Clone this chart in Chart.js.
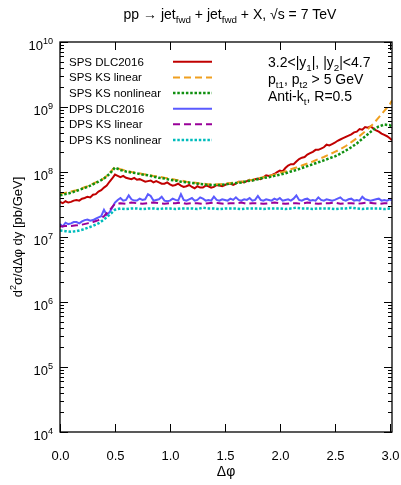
<!DOCTYPE html>
<html>
<head>
<meta charset="utf-8">
<script src="https://cdn.jsdelivr.net/npm/chart.js@4.4.1/dist/chart.umd.min.js"></script>
<style>
  html, body { margin: 0; padding: 0; background: #fff; }
  #wrap { width: 401px; height: 485px; }
</style>
</head>
<body>
<div id="wrap"><canvas id="myChart" width="401" height="485"></canvas></div>
<script>
'use strict';

// delta phi grid for the smooth KS curves
let dphi = [0.00,0.05,0.10,0.15,0.20,0.25,0.30,0.35,0.40,0.45,0.50,0.55,0.60,0.65,0.70,0.75,0.80,0.85,0.90,0.95,
  1.00,1.05,1.10,1.15,1.20,1.25,1.30,1.35,1.40,1.45,1.50,1.55,1.60,1.65,1.70,1.75,1.80,1.85,1.90,1.95,
  2.00,2.05,2.10,2.15,2.20,2.25,2.30,2.35,2.40,2.45,2.50,2.55,2.60,2.65,2.70,2.75,2.80,2.85,2.90,2.95,3.00,3.02];

// finer grid for the noisy DLC2016 curves
let dphiFine = [0.000,0.025,0.050,0.075,0.100,0.125,0.150,0.175,0.200,0.225,0.250,0.275,0.300,0.325,0.350,0.375,0.400,0.425,0.450,0.475,
  0.500,0.525,0.550,0.575,0.600,0.625,0.650,0.675,0.700,0.725,0.750,0.775,0.800,0.825,0.850,0.875,0.900,0.925,0.950,0.975,
  1.000,1.025,1.050,1.075,1.100,1.125,1.150,1.175,1.200,1.225,1.250,1.275,1.300,1.325,1.350,1.375,1.400,1.425,1.450,1.475,
  1.500,1.525,1.550,1.575,1.600,1.625,1.650,1.675,1.700,1.725,1.750,1.775,1.800,1.825,1.850,1.875,1.900,1.925,1.950,1.975,
  2.000,2.025,2.050,2.075,2.100,2.125,2.150,2.175,2.200,2.225,2.250,2.275,2.300,2.325,2.350,2.375,2.400,2.425,2.450,2.475,
  2.500,2.525,2.550,2.575,2.600,2.625,2.650,2.675,2.700,2.725,2.750,2.775,2.800,2.825,2.850,2.875,2.900,2.925,2.950,2.975,
  3.000,3.020];

let spsDlc = [3.47e7,3.31e7,3.55e7,3.39e7,3.47e7,3.63e7,3.72e7,3.63e7,3.89e7,3.98e7,4.17e7,4.07e7,4.47e7,4.57e7,5.01e7,5.25e7,5.75e7,6.17e7,7.08e7,7.94e7,
  9.12e7,8.71e7,8.32e7,8.71e7,8.13e7,7.94e7,7.76e7,8.13e7,7.59e7,7.76e7,7.41e7,7.08e7,7.24e7,7.41e7,6.92e7,7.24e7,6.92e7,6.61e7,6.61e7,6.92e7,
  6.46e7,6.17e7,6.31e7,6.61e7,6.17e7,5.89e7,6.03e7,6.31e7,5.89e7,5.62e7,6.03e7,5.75e7,5.75e7,6.17e7,6.03e7,5.75e7,5.89e7,6.31e7,6.17e7,6.03e7,
  6.31e7,6.61e7,6.61e7,6.31e7,6.61e7,7.08e7,7.08e7,6.92e7,7.24e7,7.59e7,7.41e7,7.76e7,7.94e7,7.76e7,8.32e7,8.91e7,8.71e7,8.91e7,9.33e7,1.00e8,
  1.05e8,1.02e8,1.15e8,1.26e8,1.32e8,1.32e8,1.45e8,1.58e8,1.66e8,1.70e8,1.86e8,1.95e8,2.04e8,2.19e8,2.19e8,2.29e8,2.40e8,2.63e8,2.57e8,2.69e8,
  2.82e8,3.02e8,3.16e8,3.31e8,3.47e8,3.63e8,3.80e8,4.07e8,4.17e8,4.57e8,4.47e8,4.90e8,4.79e8,5.01e8,4.68e8,4.37e8,4.17e8,3.89e8,3.72e8,3.55e8,
  3.31e8,3.09e8];

let spsKsLin = [4.68e7,4.79e7,5.01e7,5.25e7,5.62e7,6.03e7,6.61e7,7.24e7,7.94e7,9.55e7,1.20e8,1.10e8,1.05e8,1.00e8,9.77e7,9.33e7,9.12e7,8.71e7,8.51e7,8.13e7,
  7.94e7,7.59e7,7.41e7,7.08e7,6.92e7,6.76e7,6.61e7,6.46e7,6.46e7,6.46e7,6.61e7,6.76e7,6.92e7,7.08e7,7.41e7,7.59e7,7.94e7,8.32e7,8.71e7,9.12e7,
  9.77e7,1.02e8,1.10e8,1.17e8,1.26e8,1.35e8,1.45e8,1.58e8,1.70e8,1.86e8,2.04e8,2.24e8,2.51e8,2.88e8,3.31e8,3.89e8,4.57e8,5.50e8,6.92e8,8.71e8,1.10e9,1.26e9];

let spsKsNonlin = [4.37e7,4.57e7,4.79e7,5.13e7,5.50e7,5.89e7,6.46e7,7.08e7,7.94e7,9.33e7,1.17e8,1.07e8,1.02e8,9.77e7,9.55e7,9.12e7,8.91e7,8.51e7,8.13e7,7.94e7,
  7.59e7,7.41e7,7.08e7,6.92e7,6.76e7,6.61e7,6.46e7,6.31e7,6.31e7,6.31e7,6.46e7,6.61e7,6.76e7,6.92e7,7.24e7,7.41e7,7.76e7,8.13e7,8.32e7,8.71e7,
  9.12e7,9.55e7,1.02e8,1.07e8,1.15e8,1.23e8,1.32e8,1.41e8,1.51e8,1.62e8,1.74e8,1.91e8,2.14e8,2.40e8,2.75e8,3.24e8,3.80e8,4.47e8,5.01e8,5.37e8,5.25e8,5.01e8];

let dpsDlc = [1.58e7,1.45e7,1.66e7,1.58e7,1.62e7,1.70e7,1.70e7,1.62e7,1.74e7,1.82e7,1.86e7,1.78e7,1.82e7,1.91e7,2.00e7,2.09e7,2.63e7,2.19e7,2.40e7,2.82e7,
  3.39e7,3.72e7,3.98e7,3.63e7,3.72e7,4.37e7,3.80e7,3.63e7,3.63e7,3.89e7,3.72e7,3.80e7,4.57e7,4.27e7,3.63e7,3.72e7,3.80e7,4.17e7,3.63e7,3.55e7,
  3.63e7,3.89e7,3.72e7,3.63e7,4.57e7,3.72e7,3.63e7,3.80e7,3.98e7,3.63e7,3.72e7,4.07e7,3.89e7,3.63e7,3.72e7,3.63e7,4.17e7,3.72e7,3.63e7,3.80e7,
  3.72e7,3.63e7,3.89e7,3.72e7,4.07e7,3.72e7,3.63e7,3.80e7,3.72e7,3.98e7,3.63e7,3.72e7,4.27e7,3.72e7,3.63e7,3.80e7,3.72e7,3.63e7,3.89e7,3.72e7,
  3.98e7,3.63e7,3.72e7,3.80e7,3.63e7,3.89e7,4.37e7,3.72e7,3.63e7,3.80e7,3.89e7,3.63e7,3.72e7,3.63e7,4.07e7,3.72e7,3.63e7,3.80e7,3.72e7,3.63e7,
  3.72e7,3.89e7,4.07e7,3.72e7,3.63e7,3.80e7,3.89e7,3.63e7,3.72e7,3.63e7,4.17e7,3.80e7,3.72e7,3.63e7,3.72e7,3.80e7,3.89e7,3.63e7,3.72e7,3.63e7,
  3.80e7,3.63e7];

let dpsKsLin = [1.45e7,1.48e7,1.48e7,1.51e7,1.55e7,1.62e7,1.70e7,1.82e7,2.09e7,2.57e7,3.24e7,3.31e7,3.24e7,3.39e7,3.31e7,3.24e7,3.31e7,3.39e7,3.31e7,3.24e7,
  3.31e7,3.31e7,3.39e7,3.24e7,3.31e7,3.31e7,3.24e7,3.31e7,3.39e7,3.31e7,3.24e7,3.31e7,3.31e7,3.39e7,3.24e7,3.31e7,3.31e7,3.24e7,3.31e7,3.39e7,
  3.31e7,3.24e7,3.31e7,3.31e7,3.24e7,3.39e7,3.31e7,3.24e7,3.31e7,3.31e7,3.39e7,3.24e7,3.31e7,3.31e7,3.24e7,3.31e7,3.39e7,3.31e7,3.24e7,3.31e7,3.31e7,3.31e7];

let dpsKsNonlin = [1.26e7,1.23e7,1.20e7,1.23e7,1.29e7,1.38e7,1.48e7,1.62e7,1.86e7,2.19e7,2.63e7,2.75e7,2.69e7,2.75e7,2.75e7,2.69e7,2.75e7,2.75e7,2.69e7,2.75e7,
  2.75e7,2.69e7,2.75e7,2.75e7,2.75e7,2.69e7,2.82e7,2.75e7,2.75e7,2.69e7,2.75e7,2.75e7,2.75e7,2.69e7,2.75e7,2.75e7,2.75e7,2.69e7,2.75e7,2.75e7,
  2.75e7,2.69e7,2.75e7,2.82e7,2.75e7,2.75e7,2.69e7,2.75e7,2.75e7,2.75e7,2.69e7,2.75e7,2.75e7,2.82e7,2.75e7,2.69e7,2.75e7,2.75e7,2.75e7,2.69e7,2.75e7,2.75e7];

let seriesNames = ['SPS DLC2016','SPS KS linear','SPS KS nonlinear','DPS DLC2016','DPS KS linear','DPS KS nonlinear'];
let seriesColors = ['#c00000','#f0a020','#109010','#5a5aff','#990099','#00bcbc'];
let seriesDash = [[],[7,4],[2.5,1.8],[],[7,4],[2.5,1.8]];
let seriesData = [spsDlc,spsKsLin,spsKsNonlin,dpsDlc,dpsKsLin,dpsKsNonlin];
let seriesGrid = [dphiFine,dphi,dphi,dphiFine,dphi,dphi];

let xTicks = [0.0,0.5,1.0,1.5,2.0,2.5,3.0];
let yDecades = [4,5,6,7,8,9,10];

const FONT = '"Liberation Sans", Arial, sans-serif';

function toPoints(xs, ys){
  let pts = [];
  for(let i = 0; i < xs.length; i++){
    pts.push({x: xs[i], y: ys[i]});
  }
  return pts;
}

let datasets = [];
for(let i = 0; i < seriesNames.length; i++){
  datasets.push({
    label: seriesNames[i],
    data: toPoints(seriesGrid[i], seriesData[i]),
    borderColor: seriesColors[i],
    borderWidth: (i === 2 || i === 5) ? 2.5 : 2,
    borderDash: seriesDash[i],
    pointRadius: 0,
    tension: 0,
    fill: false,
    order: 10 - i
  });
}

// text with sub/superscript parts: [[text, 'n'|'sub'|'sup'], ...]
function richWidth(ctx, parts, size){
  let w = 0;
  for(let p of parts){
    let s = p[1] === 'n' ? size : size * 0.7;
    ctx.font = s + 'px ' + FONT;
    w += ctx.measureText(p[0]).width;
  }
  return w;
}
function richText(ctx, parts, x, y, size){
  let cx = x;
  for(let p of parts){
    let s = p[1] === 'n' ? size : size * 0.7;
    let dy = p[1] === 'sub' ? size * 0.3 : (p[1] === 'sup' ? -size * 0.45 : 0);
    ctx.font = s + 'px ' + FONT;
    ctx.fillText(p[0], cx, y + dy);
    cx += ctx.measureText(p[0]).width;
  }
}

let decorPlugin = {
  id: 'decor',
  afterDatasetsDraw(chart){
    let ctx = chart.ctx;
    let a = chart.chartArea;
    let xs = chart.scales.x;
    let ys = chart.scales.y;
    ctx.save();
    ctx.fillStyle = '#000';
    ctx.strokeStyle = '#000';
    ctx.textBaseline = 'alphabetic';

    // frame
    ctx.lineWidth = 1.3;
    ctx.strokeRect(a.left, a.top, a.right - a.left, a.bottom - a.top);

    // x ticks and labels
    ctx.lineWidth = 1;
    ctx.textAlign = 'center';
    ctx.font = '13px ' + FONT;
    for(let t of xTicks){
      let px = Math.round(xs.getPixelForValue(t)) + 0.5;
      ctx.beginPath();
      ctx.moveTo(px, a.bottom); ctx.lineTo(px, a.bottom - 8);
      ctx.moveTo(px, a.top); ctx.lineTo(px, a.top + 8);
      ctx.stroke();
      ctx.fillText(t.toFixed(1), px, a.bottom + 28);
    }

    // y ticks (log) and labels
    for(let d of yDecades){
      let py = Math.round(ys.getPixelForValue(Math.pow(10, d))) + 0.5;
      ctx.beginPath();
      ctx.moveTo(a.left, py); ctx.lineTo(a.left + 8, py);
      ctx.moveTo(a.right, py); ctx.lineTo(a.right - 8, py);
      ctx.stroke();
      if(d < 10){
        for(let m = 2; m <= 9; m++){
          let pm = Math.round(ys.getPixelForValue(m * Math.pow(10, d))) + 0.5;
          ctx.beginPath();
          ctx.moveTo(a.left, pm); ctx.lineTo(a.left + 4, pm);
          ctx.moveTo(a.right, pm); ctx.lineTo(a.right - 4, pm);
          ctx.stroke();
        }
      }
      let parts = [['10','n'],[String(d),'sup']];
      ctx.textAlign = 'left';
      let w = richWidth(ctx, parts, 13);
      richText(ctx, parts, a.left - 7 - w, py + 7, 13);
    }

    // axis titles
    ctx.textAlign = 'center';
    ctx.font = '14px ' + FONT;
    ctx.fillText('\u0394\u03c6', (a.left + a.right) / 2, a.bottom + 44);

    ctx.save();
    ctx.translate(22, (a.top + a.bottom) / 2);
    ctx.rotate(-Math.PI / 2);
    ctx.textAlign = 'left';
    let yt = [['d','n'],['2','sup'],['\u03c3/d\u0394\u03c6 dy [pb/GeV]','n']];
    let ytw = richWidth(ctx, yt, 13);
    richText(ctx, yt, -ytw / 2, 0, 13);
    ctx.restore();

    // main title
    ctx.textAlign = 'left';
    let tt = [['pp \u2192 jet','n'],['fwd','sub'],[' + jet','n'],['fwd','sub'],[' + X, \u221as = 7 TeV','n']];
    let ttw = richWidth(ctx, tt, 14);
    richText(ctx, tt, 230 - ttw / 2, 19, 14);

    // legend
    let rowY = [61.7, 77.4, 93.0, 108.7, 124.3, 140.0];
    for(let i = 0; i < seriesNames.length; i++){
      ctx.font = '11.5px ' + FONT;
      ctx.textAlign = 'left';
      ctx.fillStyle = '#000';
      ctx.fillText(seriesNames[i], 69, rowY[i] + 4);
      ctx.strokeStyle = seriesColors[i];
      ctx.lineWidth = (i === 2 || i === 5) ? 2.5 : 2;
      ctx.setLineDash(seriesDash[i]);
      ctx.beginPath();
      ctx.moveTo(173, rowY[i]); ctx.lineTo(212, rowY[i]);
      ctx.stroke();
      ctx.setLineDash([]);
    }

    // cut annotations
    ctx.fillStyle = '#000';
    richText(ctx, [['3.2<|y','n'],['1','sub'],['|, |y','n'],['2','sub'],['|<4.7','n']], 268, 67, 14);
    richText(ctx, [['p','n'],['t1','sub'],[', p','n'],['t2','sub'],[' > 5 GeV','n']], 268, 84, 14);
    richText(ctx, [['Anti-k','n'],['t','sub'],[', R=0.5','n']], 268, 101, 14);

    ctx.restore();
  }
};

let ctx = document.getElementById('myChart').getContext('2d');
let myChart = new Chart(ctx, {
  type: 'line',
  data: { datasets: datasets },
  options: {
    responsive: false,
    animation: false,
    layout: { padding: { left: 60, right: 9, top: 42, bottom: 53 } },
    plugins: { legend: { display: false }, tooltip: { enabled: false } },
    scales: {
      x: { type: 'linear', min: 0, max: 3.02, display: false },
      y: { type: 'logarithmic', min: 1e4, max: 1e10, display: false }
    }
  },
  plugins: [decorPlugin]
});
</script>
</body>
</html>
